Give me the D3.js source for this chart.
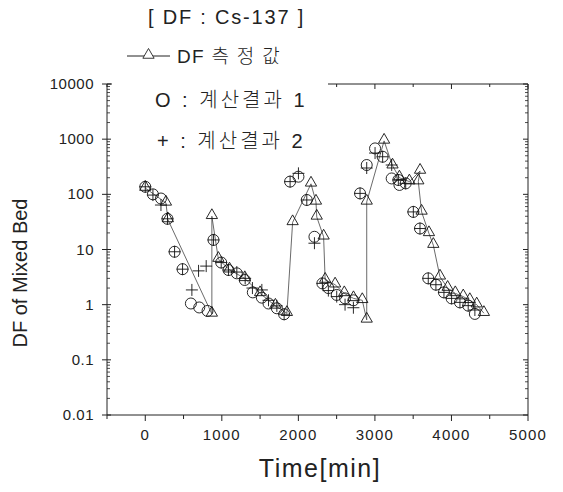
<!DOCTYPE html>
<html>
<head>
<meta charset="utf-8">
<script src="https://cdn.jsdelivr.net/npm/d3@7"></script>
<style>
  body { margin: 0; background: #fff; }
  svg text { font-family: "Liberation Sans", Arial, sans-serif; fill: #222; }
  .kr { font-family: "Liberation Sans", "Noto Sans CJK KR", sans-serif; font-weight: 300; }
</style>
</head>
<body>
<div class="chart"></div>
<script>
// chart values
const measTime = [0, 270, 295, 870, 870, 955, 1100, 1300, 1500, 1700, 1850, 1925, 2165, 2230, 2240, 2330, 2350, 2480, 2600, 2720, 2835, 2893, 2893, 3120, 3230, 3320, 3450, 3590, 3567, 3610, 3706, 3763, 3850, 3950, 4050, 4154, 4240, 4330, 4424];
const measDF   = [130, 70, 35, 0.68, 40, 6.7, 4.3, 3.0, 1.6, 0.95, 0.7, 31, 155, 73, 39, 17, 2.8, 2.3, 1.6, 1.3, 1.2, 0.53, 73, 930, 330, 200, 170, 265, 170, 48, 19.6, 12, 3.2, 2.0, 1.6, 1.4, 1.2, 1.0, 0.7];

const calc1Time = [0, 100, 205, 290, 383, 487, 596, 705, 813, 891, 992, 1087, 1196, 1300, 1405, 1523, 1610, 1719, 1814, 1892, 2001, 2110, 2210, 2314, 2392, 2501, 2610, 2719, 2806, 2893, 3002, 3101, 3219, 3306, 3320, 3402, 3502, 3589, 3697, 3797, 3902, 4002, 4111, 4219, 4306];
const calc1DF   = [137, 100, 84, 36, 9.1, 4.4, 1.05, 0.89, 0.77, 14.9, 5.8, 4.25, 3.7, 2.8, 1.67, 1.34, 1.05, 0.86, 0.67, 170, 209, 79, 17, 2.43, 2.0, 1.5, 1.3, 1.2, 104, 340, 680, 480, 194, 182, 148, 158, 48, 24, 3.0, 2.3, 1.67, 1.3, 1.1, 0.96, 0.68];

const calc2Time = [0, 100, 205, 290, 383, 487, 609, 696, 796, 891, 992, 1087, 1196, 1305, 1400, 1523, 1610, 1719, 1814, 1892, 2001, 2110, 2210, 2314, 2392, 2501, 2610, 2719, 2806, 2893, 3002, 3101, 3219, 3306, 3402, 3502, 3589, 3697, 3797, 3902, 4002, 4111, 4219, 4306];
const calc2DF   = [137, 97, 64, 36, 9.1, 4.4, 1.85, 4.1, 5.0, 14.9, 5.8, 4.25, 3.9, 3.0, 2.0, 1.85, 1.2, 0.95, 0.67, 170, 240, 79, 13, 2.43, 1.8, 1.4, 1.0, 0.88, 104, 300, 560, 480, 340, 182, 158, 48, 24, 3.0, 2.3, 1.67, 1.3, 1.1, 0.96, 0.8];

const xTicks = [0, 1000, 2000, 3000, 4000, 5000];
const yTicks = [0.01, 0.1, 1, 10, 100, 1000, 10000];
const yTickLabels = ["0.01", "0.1", "1", "10", "100", "1000", "10000"];

const svgWidth = 563, svgHeight = 492;
const plot = { left: 107, right: 528, top: 84, bottom: 415 };

const svg = d3.select(".chart").append("svg")
    .attr("width", svgWidth)
    .attr("height", svgHeight);

const x = d3.scaleLinear().domain([-500, 5000]).range([plot.left, plot.right]);
const y = d3.scaleLog().domain([0.01, 10000]).range([plot.bottom, plot.top]);

// minor tick values
const xMinor = d3.range(-500, 5001, 500).filter(v => v % 1000 !== 0);
const yMinor = [];
yTicks.slice(0, -1).forEach(d => { for (let k = 2; k <= 9; k++) yMinor.push(d * k); });

const axisG = svg.append("g").attr("stroke", "#222").attr("stroke-width", 1);

// frame
axisG.append("line").attr("x1", plot.left).attr("x2", plot.left).attr("y1", plot.top).attr("y2", plot.bottom);
axisG.append("line").attr("x1", plot.right).attr("x2", plot.right).attr("y1", plot.top).attr("y2", plot.bottom);
axisG.append("line").attr("x1", plot.left).attr("x2", plot.right).attr("y1", plot.bottom).attr("y2", plot.bottom);
axisG.append("line").attr("x1", plot.left).attr("x2", plot.right).attr("y1", plot.top).attr("y2", plot.top);

// bottom / top ticks
xTicks.forEach(v => {
  axisG.append("line").attr("x1", x(v)).attr("x2", x(v)).attr("y1", plot.bottom).attr("y2", plot.bottom + 6);
  axisG.append("line").attr("x1", x(v)).attr("x2", x(v)).attr("y1", plot.top).attr("y2", plot.top + 5);
});
xMinor.forEach(v => {
  axisG.append("line").attr("x1", x(v)).attr("x2", x(v)).attr("y1", plot.bottom).attr("y2", plot.bottom + 4);
  axisG.append("line").attr("x1", x(v)).attr("x2", x(v)).attr("y1", plot.top).attr("y2", plot.top + 3);
});

// left / right ticks
yTicks.forEach(v => {
  axisG.append("line").attr("x1", plot.left - 5).attr("x2", plot.left + 4).attr("y1", y(v)).attr("y2", y(v));
  axisG.append("line").attr("x1", plot.right - 5).attr("x2", plot.right).attr("y1", y(v)).attr("y2", y(v));
});
yMinor.forEach(v => {
  axisG.append("line").attr("x1", plot.left).attr("x2", plot.left + 3).attr("y1", y(v)).attr("y2", y(v)).attr("stroke-width", 0.8);
  axisG.append("line").attr("x1", plot.right - 3).attr("x2", plot.right).attr("y1", y(v)).attr("y2", y(v)).attr("stroke-width", 0.8);
});

// tick labels
svg.append("g").selectAll("text")
  .data(xTicks)
  .enter()
  .append("text")
  .attr("x", d => x(d))
  .attr("y", 440)
  .attr("text-anchor", "middle")
  .attr("font-size", 15)
  .attr("letter-spacing", 1.2)
  .text(d => d);

svg.append("g").selectAll("text")
  .data(yTicks)
  .enter()
  .append("text")
  .attr("x", 94)
  .attr("y", d => y(d) + 5)
  .attr("text-anchor", "end")
  .attr("font-size", 15)
  .attr("letter-spacing", 0.5)
  .text((d, i) => yTickLabels[i]);

// axis titles
svg.append("text")
  .attr("transform", "rotate(-90)")
  .attr("x", -273)
  .attr("y", 27)
  .attr("text-anchor", "middle")
  .attr("font-size", 20)
  .text("DF of Mixed Bed");

svg.append("text")
  .attr("x", 320)
  .attr("y", 477)
  .attr("text-anchor", "middle")
  .attr("font-size", 25)
  .attr("letter-spacing", 1.5)
  .text("Time[min]");

// data marks
const markG = svg.append("g").attr("fill", "none").attr("stroke", "#111");

const meas = measTime.map((t, i) => [t, measDF[i]]);
markG.append("path")
  .datum(meas)
  .attr("d", d3.line().x(d => x(d[0])).y(d => y(d[1])))
  .attr("stroke", "#444")
  .attr("stroke-width", 0.8);

const tri = d3.symbol().type(d3.symbolTriangle).size(55);
markG.selectAll(".tri")
  .data(meas)
  .enter()
  .append("path")
  .attr("class", "tri")
  .attr("d", tri)
  .attr("transform", d => `translate(${x(d[0])},${y(d[1]) - 1})`)
  .attr("stroke-width", 0.9);

markG.selectAll(".circ")
  .data(calc1Time.map((t, i) => [t, calc1DF[i]]))
  .enter()
  .append("circle")
  .attr("class", "circ")
  .attr("cx", d => x(d[0]))
  .attr("cy", d => y(d[1]))
  .attr("r", 5.5)
  .attr("stroke-width", 0.9);

markG.selectAll(".plus")
  .data(calc2Time.map((t, i) => [t, calc2DF[i]]))
  .enter()
  .append("path")
  .attr("class", "plus")
  .attr("d", d => {
    const cx = x(d[0]), cy = y(d[1]);
    return `M${cx - 6},${cy}H${cx + 6}M${cx},${cy - 6}V${cy + 6}`;
  })
  .attr("stroke-width", 0.9);

// legend (white box hides the top frame under it)
svg.append("rect")
  .attr("x", 112).attr("y", 30).attr("width", 216).attr("height", 125)
  .attr("fill", "#fff");

svg.append("text")
  .attr("x", 148).attr("y", 24)
  .attr("font-size", 20)
  .attr("letter-spacing", 1.8)
  .text("[ DF : Cs-137 ]");

svg.append("line")
  .attr("x1", 127).attr("x2", 170).attr("y1", 56).attr("y2", 56)
  .attr("stroke", "#222").attr("stroke-width", 1);
svg.append("path")
  .attr("d", tri)
  .attr("transform", "translate(148.5,55)")
  .attr("fill", "#fff").attr("stroke", "#222").attr("stroke-width", 0.9);
svg.append("text").attr("class", "kr")
  .attr("x", 177).attr("y", 63)
  .attr("font-size", 19)
  .attr("letter-spacing", 1.3)
  .text("DF 측 정 값");

svg.append("text").attr("class", "kr")
  .attr("x", 155).attr("y", 107)
  .attr("font-size", 20)
  .attr("letter-spacing", 3)
  .text("O : 계산결과 1");

svg.append("text").attr("class", "kr")
  .attr("x", 157).attr("y", 148)
  .attr("font-size", 20)
  .attr("letter-spacing", 3)
  .text("+ : 계산결과 2");
</script>
</body>
</html>
